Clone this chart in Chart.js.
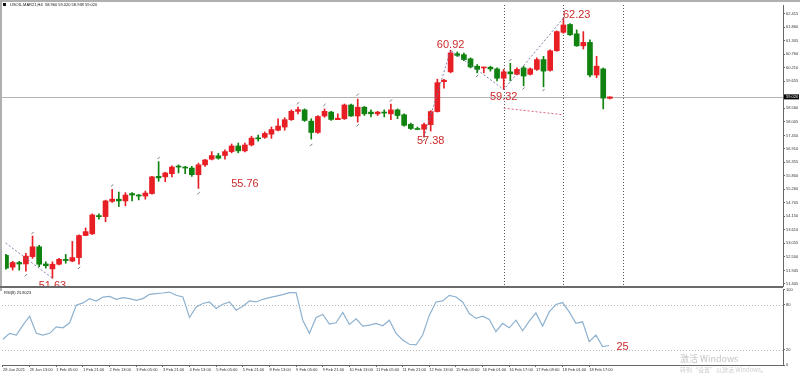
<!DOCTYPE html>
<html>
<head>
<meta charset="utf-8">
<script src="https://cdn.jsdelivr.net/npm/chart.js@4.4.1/dist/chart.umd.min.js"></script>
<style>
html,body{margin:0;padding:0;background:#fff;}
#wrap{position:relative;width:800px;height:375px;overflow:hidden;background:#fff;}
#main{position:absolute;left:0;top:0;}
#rsi{position:absolute;left:0;top:286px;}
</style>
</head>
<body>
<div id="wrap">
  <canvas id="main" width="800" height="291" style="width:800px;height:291px"></canvas>
  <canvas id="rsi" width="800" height="89" style="width:800px;height:89px"></canvas>
</div>
<script>
// USOIL H4 candles + RSI, MT4 style (red = up, green = down)
const opens  = [52.56,52.08,52.27,52.21,52.51,52.91,52.21,52.01,52.20,52.40,
  52.33,52.47,53.37,53.44,54.18,54.14,54.76,54.85,54.78,55.08,
  55.01,54.98,55.08,55.78,55.76,55.89,56.19,56.16,56.12,55.85,
  56.25,56.48,56.62,56.63,56.79,57.02,56.82,57.06,57.34,57.37,
  57.50,57.66,57.79,58.09,58.43,58.49,58.03,57.57,58.24,58.40,
  58.09,58.13,58.69,58.24,58.60,58.40,58.33,58.40,58.33,58.49,
  58.29,57.90,57.71,57.70,57.89,58.42,59.64,60.04,60.78,60.74,
  60.57,60.27,60.20,60.23,60.16,59.78,60.04,59.94,60.20,59.94,
  60.14,60.54,60.10,60.90,61.65,61.97,61.59,61.10,61.24,59.91,
  60.16,58.96];
const highs  = [52.60,52.32,52.32,52.64,53.35,52.97,52.30,52.30,52.44,52.60,
  53.13,53.40,53.68,54.25,54.25,54.81,55.25,55.14,55.12,55.12,
  55.05,55.18,55.78,56.38,55.95,56.21,56.25,56.19,56.19,56.32,
  56.48,56.79,56.72,56.86,57.10,57.14,57.14,57.42,57.46,57.59,
  57.79,58.13,58.17,58.49,58.60,58.53,58.13,58.26,58.53,58.43,
  58.33,58.73,58.73,58.93,58.63,58.49,58.43,58.49,58.73,58.53,
  58.33,57.95,57.79,57.95,58.46,59.74,59.74,60.92,60.85,60.81,
  60.61,60.34,60.23,60.27,60.20,60.14,60.39,60.20,60.27,60.20,
  60.61,60.67,60.94,61.71,62.23,62.01,61.75,61.68,61.34,60.67,
  60.20,59.02];
const lows   = [52.00,51.96,51.96,51.92,52.44,52.10,52.04,51.63,52.17,52.24,
  52.30,52.20,53.36,53.41,54.04,53.93,54.72,54.55,54.58,54.78,
  54.82,54.85,55.05,55.58,55.56,55.76,55.92,55.89,55.78,55.29,
  56.19,56.45,56.48,56.48,56.74,56.74,56.78,57.02,57.22,57.33,
  57.33,57.63,57.66,58.06,58.33,58.02,57.30,57.53,58.19,58.06,
  58.09,58.10,58.22,57.99,58.26,58.20,58.26,58.20,58.09,58.13,
  57.83,57.69,57.69,57.38,57.63,58.40,59.38,60.00,60.67,60.50,
  60.20,60.00,60.00,60.07,59.67,59.32,59.67,59.91,59.47,59.91,
  60.10,59.43,60.07,60.88,61.61,61.52,61.08,60.97,59.83,59.80,
  58.53,58.94];
const closes = [52.04,52.27,52.21,52.53,52.91,52.20,52.14,52.20,52.40,52.35,
  52.47,53.37,53.53,54.21,54.14,54.78,54.85,54.78,55.02,55.02,
  54.98,55.10,55.76,55.72,55.92,56.16,56.16,56.12,55.85,56.25,
  56.45,56.63,56.52,56.79,57.02,56.82,57.06,57.34,57.31,57.53,
  57.69,57.83,58.09,58.43,58.50,58.06,57.57,58.22,58.43,58.10,
  58.15,58.69,58.24,58.60,58.33,58.33,58.40,58.36,58.49,58.26,
  57.86,57.73,57.69,57.89,58.42,59.60,59.70,60.81,60.71,60.54,
  60.24,60.14,60.23,60.16,59.78,60.04,59.96,60.14,59.87,60.16,
  60.54,60.07,60.90,61.68,61.95,61.55,61.10,61.24,59.91,60.27,
  58.97,59.02];
const rsiValues = [34.0,41.9,39.6,52.8,64.6,41.9,39.6,41.9,50.5,49.2,
  55.8,79.0,82.1,87.8,84.7,89.9,90.8,86.9,89.1,87.8,
  85.6,87.8,93.5,94.4,95.2,96.5,92.2,89.9,62.9,76.8,
  81.3,83.4,74.7,80.3,83.4,72.5,77.7,84.7,83.4,86.9,
  89.1,91.2,93.1,95.7,95.7,59.3,41.9,62.9,66.8,54.1,
  55.8,69.4,53.7,61.0,51.5,52.8,55.0,51.9,59.3,41.9,
  33.1,27.4,26.5,39.6,65.9,83.4,84.7,92.2,89.9,83.4,
  68.1,61.6,64.6,60.3,44.0,55.0,49.2,59.3,45.3,58.0,
  68.9,51.5,70.2,80.0,82.6,70.2,55.0,57.1,30.9,39.6,
  24.3,25.8];

const xTickBars = [0,4,8,12,16,20,24,28,32,36,40,44,48,52,56,60,64,68,72,76,80,84,88];
const xTickLabels = ['28 Jan 2021','29 Jan 13:00','1 Feb 05:00','1 Feb 21:00','2 Feb 13:00','3 Feb 05:00',
  '3 Feb 21:00','4 Feb 13:00','5 Feb 05:00','5 Feb 21:00','8 Feb 13:00','9 Feb 05:00','9 Feb 21:00',
  '10 Feb 13:00','11 Feb 05:00','11 Feb 21:00','12 Feb 13:00','15 Feb 05:00','16 Feb 01:00',
  '16 Feb 17:00','17 Feb 09:00','18 Feb 01:00','18 Feb 17:00'];
const priceTicks = [62.415,61.860,61.305,60.760,60.210,59.655,58.560,58.005,57.450,56.910,
  56.355,55.800,55.260,54.705,54.150,53.610,53.055,52.500,51.945,51.405];
const rsiTicks = [100,80,20,0];
const rsiLevels = [80,20];
const lastPrice = 59.020;
const titleText = 'USOIL,MAR21,H4  58.960 59.020 58.938 59.020';
const rsiTitle = 'RSI(8) 25.8023';

// drawn objects
const zigInBars = [-1.5,7], zigInPrices = [53.36,51.63];
const zigBars = [63,67,75,84], zigPrices = [57.38,60.92,59.32,62.23];
const divBars = [75,84], divPrices = [58.56,58.29];
const sepBars = [75,84,93];
const fracBars   = [3,4,11,16,23,29,44,46,48,53,53,58,63,71,76,78,81];
const fracPrices = [51.75,53.47,52.05,55.41,56.53,55.09,58.76,57.06,58.69,59.11,57.86,58.87,57.26,59.87,60.52,59.36,59.30];
const noteTexts  = ['51.63','55.76','57.38','60.92','59.32','62.23'];
const noteBars   = [7,36,64,67,75,86];
const notePrices = [51.32,55.46,57.22,61.14,59.03,62.36];
const rsiNote = '25', rsiNoteBar = 93, rsiNoteValue = 24.3;

const UP = '#e81e25', DOWN = '#0f820f', NOTE = '#cc2b2b', ZZ = 'rgba(115,115,165,0.9)';
const SMALL = '"Liberation Sans", Arial, sans-serif';
const XMIN = -0.15, XMAX = 117.09;

const candleColors = opens.map((o,i)=> closes[i] >= o ? UP : DOWN);
const pts = (bx, vy)=> bx.map((b,i)=>({x:b, y:vy[i]}));

const mainDecor = {
  id:'mainDecor',
  beforeDatasetsDraw(chart){
    const {ctx, chartArea:a, scales:{x,y}} = chart;
    ctx.save();
    const py = Math.round(y.getPixelForValue(lastPrice)) + 0.5;
    ctx.strokeStyle = '#b4b4b4'; ctx.lineWidth = 1;
    ctx.beginPath(); ctx.moveTo(0,py); ctx.lineTo(a.right,py); ctx.stroke();
    ctx.strokeStyle = '#555'; ctx.setLineDash([1,2]);
    sepBars.forEach(b=>{
      const px = Math.round(x.getPixelForValue(b)) + 0.5;
      ctx.beginPath(); ctx.moveTo(px,a.top); ctx.lineTo(px,a.bottom); ctx.stroke();
    });
    ctx.restore();
  },
  afterDatasetsDraw(chart){
    const {ctx, chartArea:a, scales:{x,y}} = chart;
    ctx.save();
    ctx.beginPath(); ctx.rect(a.left,a.top,a.right-a.left,a.bottom-a.top); ctx.clip();
    ctx.font = '11px ' + SMALL; ctx.fillStyle = NOTE;
    ctx.textAlign = 'center'; ctx.textBaseline = 'middle';
    noteTexts.forEach((t,i)=> ctx.fillText(t, x.getPixelForValue(noteBars[i]), y.getPixelForValue(notePrices[i])));
    ctx.restore();
  },
  afterDraw(chart){
    const {ctx, chartArea:a, scales:{y}} = chart;
    ctx.save();
    // frame
    ctx.fillStyle = '#b0b0b0';
    ctx.fillRect(0,0,800,2);
    ctx.fillRect(0,0,2,chart.height);
    ctx.fillStyle = '#6a6a6a';
    ctx.fillRect(0,a.bottom,a.right,2);
    // title
    ctx.fillStyle = '#111'; ctx.fillRect(3,3,3,3);
    ctx.font = '4px ' + SMALL; ctx.textAlign = 'left'; ctx.textBaseline = 'middle';
    ctx.fillText(titleText, 10, 5);
    // last price box
    const py = y.getPixelForValue(lastPrice);
    ctx.fillStyle = '#000'; ctx.fillRect(a.right+1, py-2.5, 15, 5);
    ctx.fillStyle = '#fff'; ctx.fillText(lastPrice.toFixed(3), a.right+3, py);
    ctx.restore();
  }
};

new Chart(document.getElementById('main'), {
  type:'bar',
  data:{ datasets:[
    { type:'line', data:pts(zigInBars,zigInPrices), borderColor:ZZ, borderWidth:1, borderDash:[2,2], pointRadius:0, order:1 },
    { type:'line', data:pts(zigBars,zigPrices), borderColor:ZZ, borderWidth:1, borderDash:[2,2], pointRadius:0, order:1 },
    { type:'line', data:pts(divBars,divPrices), borderColor:'#e0607a', borderWidth:1, borderDash:[2,2], pointRadius:0, order:1 },
    { type:'scatter', data:pts(fracBars,fracPrices), pointStyle:'line', pointRotation:-45, pointRadius:1.6,
      pointBorderColor:'#777', pointBorderWidth:1, order:2 },
    { data:opens.map((o,i)=>({x:i, y:[o, closes[i]]})), backgroundColor:candleColors, barThickness:5, minBarLength:1, grouped:false, order:3 },
    { data:opens.map((o,i)=>({x:i, y:[lows[i], highs[i]]})), backgroundColor:candleColors, barThickness:1, grouped:false, order:4 }
  ]},
  options:{
    responsive:false, animation:false, devicePixelRatio:1,
    layout:{ padding:{ left:2, top:3, right:0, bottom:3 } },
    plugins:{ legend:{display:false}, tooltip:{enabled:false} },
    scales:{
      x:{ type:'linear', min:XMIN, max:XMAX, offset:false, grid:{offset:false}, display:false },
      y:{ position:'right', min:51.3126, max:62.7645,
        afterFit:s=>{ s.width = 17; },
        afterBuildTicks:s=>{ s.ticks = priceTicks.map(v=>({value:v})); },
        ticks:{ autoSkip:false, padding:1, color:'#333', font:{size:4, family:SMALL}, callback:v=>v.toFixed(3) },
        grid:{ drawOnChartArea:false, tickLength:2, color:'#666' },
        border:{ color:'#666' } }
    }
  },
  plugins:[mainDecor]
});

const rsiDecor = {
  id:'rsiDecor',
  beforeDatasetsDraw(chart){
    const {ctx, chartArea:a, scales:{y}} = chart;
    ctx.save();
    ctx.strokeStyle = '#b8b8b8'; ctx.lineWidth = 1; ctx.setLineDash([1,2]);
    rsiLevels.forEach(v=>{
      const py = Math.round(y.getPixelForValue(v)) + 0.5;
      ctx.beginPath(); ctx.moveTo(a.left,py); ctx.lineTo(a.right,py); ctx.stroke();
    });
    ctx.restore();
  },
  afterDraw(chart){
    const {ctx, chartArea:a, scales:{x,y}} = chart;
    ctx.save();
    ctx.fillStyle = '#111'; ctx.font = '4px ' + SMALL; ctx.textAlign = 'left'; ctx.textBaseline = 'middle';
    ctx.fillText(rsiTitle, a.left+2, a.top+3.5);
    ctx.fillStyle = NOTE; ctx.font = '11px ' + SMALL; ctx.textAlign = 'center';
    ctx.fillText(rsiNote, x.getPixelForValue(rsiNoteBar), y.getPixelForValue(rsiNoteValue));
    // windows watermark
    ctx.textAlign = 'left'; ctx.textBaseline = 'alphabetic';
    ctx.fillStyle = '#c4c4c4'; ctx.font = '9px "Noto Sans CJK SC", sans-serif';
    ctx.fillText('激活 Windows', 680, 76);
    ctx.fillStyle = '#cdcdcd'; ctx.font = '6px "Noto Sans CJK SC", sans-serif';
    ctx.fillText('转到“设置”以激活 Windows。', 680, 86);
    ctx.restore();
  }
};

new Chart(document.getElementById('rsi'), {
  type:'line',
  data:{ datasets:[
    { data:rsiValues.map((v,i)=>({x:i, y:v})), borderColor:'#8db1cf', borderWidth:1.2, pointRadius:0, tension:0 }
  ]},
  options:{
    responsive:false, animation:false, devicePixelRatio:1,
    layout:{ padding:{ left:2, top:3, right:0, bottom:0 } },
    plugins:{ legend:{display:false}, tooltip:{enabled:false} },
    scales:{
      x:{ type:'linear', min:XMIN, max:XMAX,
        afterFit:s=>{ s.height = 10; },
        afterBuildTicks:s=>{ s.ticks = xTickBars.map(v=>({value:v})); },
        ticks:{ autoSkip:false, maxRotation:0, align:'start', padding:0, color:'#333',
          font:{size:4, family:SMALL}, callback:(v,i)=>xTickLabels[i] },
        grid:{ drawOnChartArea:false, tickLength:2, color:'#666' },
        border:{ color:'#666' } },
      y:{ position:'right', min:0, max:100,
        afterFit:s=>{ s.width = 17; },
        afterBuildTicks:s=>{ s.ticks = rsiTicks.map(v=>({value:v})); },
        ticks:{ autoSkip:false, padding:1, color:'#333', font:{size:4, family:SMALL} },
        grid:{ drawOnChartArea:false, tickLength:2, color:'#666' },
        border:{ color:'#666' } }
    }
  },
  plugins:[rsiDecor]
});
</script>
</body>
</html>
